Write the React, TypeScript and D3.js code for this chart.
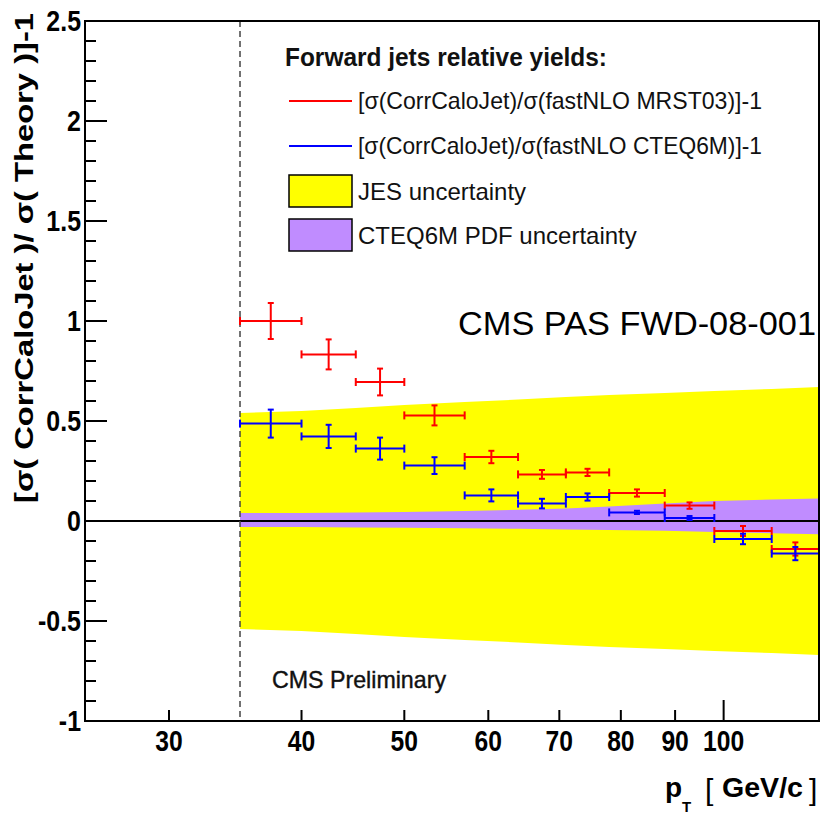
import React, { useEffect, useRef } from 'react';
import * as d3 from 'd3';

// pT bin edges [GeV/c]
const binEdges = [35, 40, 45, 50, 57, 64, 71, 78, 88, 98, 111, 123];

// [sigma(CorrCaloJet)/sigma(fastNLO MRST03)]-1
const mrstValues = [1.0, 0.833, 0.695, 0.528, 0.32, 0.233, 0.243, 0.14, 0.077, -0.05, -0.14];
const mrstErrors = [0.09, 0.075, 0.067, 0.05, 0.031, 0.022, 0.018, 0.018, 0.016, 0.025, 0.033];

// [sigma(CorrCaloJet)/sigma(fastNLO CTEQ6M)]-1
const cteqValues = [0.487, 0.423, 0.362, 0.277, 0.128, 0.087, 0.12, 0.043, 0.015, -0.09, -0.163];
const cteqErrors = [0.07, 0.058, 0.055, 0.042, 0.03, 0.024, 0.018, 0.008, 0.01, 0.026, 0.033];

// bands, one value per bin edge
const jesUp = [0.54, 0.55, 0.565, 0.58, 0.595, 0.607, 0.62, 0.63, 0.64, 0.65, 0.66, 0.67];
const jesDown = [-0.54, -0.55, -0.565, -0.58, -0.595, -0.607, -0.62, -0.63, -0.64, -0.65, -0.66, -0.67];
const pdfUp = [0.04, 0.04, 0.042, 0.045, 0.05, 0.056, 0.063, 0.072, 0.088, 0.1, 0.107, 0.112];
const pdfDown = [-0.03, -0.03, -0.032, -0.034, -0.036, -0.039, -0.042, -0.045, -0.049, -0.055, -0.061, -0.066];

const xTicks = [30, 40, 50, 60, 70, 80, 90, 100];
const yMajor = [-1, -0.5, 0, 0.5, 1, 1.5, 2, 2.5];

const legendLines = [
  { label: '[σ(CorrCaloJet)/σ(fastNLO MRST03)]-1', color: '#ff0000' },
  { label: '[σ(CorrCaloJet)/σ(fastNLO CTEQ6M)]-1', color: '#0000ff' },
];
const legendBoxes = [
  { label: 'JES uncertainty', color: '#ffff00' },
  { label: 'CTEQ6M PDF uncertainty', color: '#c08cff' },
];

const App = () => {
  const svgRef = useRef<SVGSVGElement>(null);

  useEffect(() => {
    const width = 821, height = 819;
    const left = 85, right = 819, top = 21, bottom = 721;
    const font = '"Liberation Sans", Arial, Helvetica, sans-serif';

    const svg = d3.select(svgRef.current);
    svg.selectAll('*').remove();
    svg.attr('width', width).attr('height', height);

    const x = d3.scaleLog().domain([25, 123]).range([left, right]);
    const y = d3.scaleLinear().domain([-1, 2.5]).range([bottom, top]);

    const plot = svg.append('g');

    // uncertainty bands
    const bandArea = (up: number[], down: number[]) =>
      d3.area<number>()
        .x(d => x(d))
        .y0((d, i) => y(down[i]))
        .y1((d, i) => y(up[i]))(binEdges);

    plot.append('path').attr('d', bandArea(jesUp, jesDown)).attr('fill', '#ffff00');
    plot.append('path').attr('d', bandArea(pdfUp, pdfDown)).attr('fill', '#c08cff');

    // zero line
    plot.append('line')
      .attr('x1', left).attr('x2', right)
      .attr('y1', y(0)).attr('y2', y(0))
      .attr('stroke', '#000').attr('stroke-width', 2);

    // threshold line
    plot.append('line')
      .attr('x1', x(35)).attr('x2', x(35))
      .attr('y1', top).attr('y2', bottom)
      .attr('stroke', '#444').attr('stroke-width', 1.5)
      .attr('stroke-dasharray', '6,4');

    // data points with error bars
    const drawSeries = (values: number[], errors: number[], color: string) => {
      const g = plot.append('g').attr('stroke', color).attr('stroke-width', 2).attr('fill', 'none');
      values.forEach((v, i) => {
        const x0 = x(binEdges[i]), x1 = x(binEdges[i + 1]);
        const xc = x(Math.sqrt(binEdges[i] * binEdges[i + 1]));
        const yc = y(v), ylo = y(v - errors[i]), yhi = y(v + errors[i]);
        g.append('line').attr('x1', x0).attr('x2', x1).attr('y1', yc).attr('y2', yc);
        g.append('line').attr('x1', x0).attr('x2', x0).attr('y1', yc - 4).attr('y2', yc + 4);
        g.append('line').attr('x1', x1).attr('x2', x1).attr('y1', yc - 4).attr('y2', yc + 4);
        g.append('line').attr('x1', xc).attr('x2', xc).attr('y1', ylo).attr('y2', yhi);
        g.append('line').attr('x1', xc - 3).attr('x2', xc + 3).attr('y1', ylo).attr('y2', ylo);
        g.append('line').attr('x1', xc - 3).attr('x2', xc + 3).attr('y1', yhi).attr('y2', yhi);
      });
    };
    drawSeries(mrstValues, mrstErrors, '#ff0000');
    drawSeries(cteqValues, cteqErrors, '#0000ff');

    // frame
    svg.append('rect')
      .attr('x', left).attr('y', top)
      .attr('width', right - left).attr('height', bottom - top)
      .attr('fill', 'none').attr('stroke', '#000').attr('stroke-width', 2);

    // y axis ticks
    const yMinor = d3.range(-10, 26).map(d => d / 10);
    svg.append('g').selectAll('line')
      .data(yMinor)
      .join('line')
      .attr('x1', left)
      .attr('x2', d => (Math.abs(d * 2 - Math.round(d * 2)) < 1e-6 ? left + 22 : left + 11))
      .attr('y1', d => y(d)).attr('y2', d => y(d))
      .attr('stroke', '#000').attr('stroke-width', 2);

    svg.append('g').selectAll('text')
      .data(yMajor)
      .join('text')
      .attr('transform', d => `translate(81,${y(d) + 10}) scale(0.86,1)`)
      .attr('text-anchor', 'end')
      .attr('font-family', font).attr('font-weight', 'bold').attr('font-size', 29)
      .text(d => String(d));

    // x axis ticks
    svg.append('g').selectAll('line')
      .data(xTicks)
      .join('line')
      .attr('x1', d => x(d)).attr('x2', d => x(d))
      .attr('y1', bottom).attr('y2', d => (d === 100 ? bottom - 21 : bottom - 11))
      .attr('stroke', '#000').attr('stroke-width', 2);

    svg.append('g').selectAll('text')
      .data(xTicks)
      .join('text')
      .attr('transform', d => `translate(${x(d)},751) scale(0.85,1)`)
      .attr('text-anchor', 'middle')
      .attr('font-family', font).attr('font-weight', 'bold').attr('font-size', 29)
      .text(d => String(d));

    // axis titles
    svg.append('text')
      .attr('transform', 'translate(33,258) rotate(-90)')
      .attr('text-anchor', 'middle')
      .attr('font-family', font).attr('font-weight', 'bold').attr('font-size', 25)
      .attr('textLength', 490).attr('lengthAdjust', 'spacingAndGlyphs')
      .text('[σ( CorrCaloJet )/ σ( Theory )]-1');

    const xt = svg.append('g').attr('font-family', font);
    xt.append('text').attr('x', 665).attr('y', 797)
      .attr('font-weight', 'bold').attr('font-size', 28).text('p');
    xt.append('text').attr('x', 682).attr('y', 812)
      .attr('font-weight', 'bold').attr('font-size', 15).text('T');
    xt.append('text').attr('x', 705).attr('y', 800)
      .attr('font-size', 30).attr('font-weight', 300).text('[');
    xt.append('text').attr('x', 722).attr('y', 797)
      .attr('font-weight', 'bold').attr('font-size', 28)
      .attr('textLength', 81).attr('lengthAdjust', 'spacingAndGlyphs').text('GeV/c');
    xt.append('text').attr('x', 809).attr('y', 800)
      .attr('font-size', 30).attr('font-weight', 300).text(']');

    // annotations
    svg.append('text')
      .attr('x', 458).attr('y', 335)
      .attr('font-family', font).attr('font-size', 34)
      .attr('textLength', 358).attr('lengthAdjust', 'spacingAndGlyphs')
      .text('CMS PAS FWD-08-001');

    svg.append('text')
      .attr('x', 272).attr('y', 688)
      .attr('font-family', font).attr('font-size', 24).attr('fill', '#111')
      .attr('stroke', '#111').attr('stroke-width', 0.4)
      .attr('textLength', 174).attr('lengthAdjust', 'spacingAndGlyphs')
      .text('CMS Preliminary');

    // legend
    const lg = svg.append('g').attr('font-family', font);
    lg.append('text')
      .attr('x', 285).attr('y', 66)
      .attr('font-weight', 'bold').attr('font-size', 26).attr('fill', '#111')
      .attr('textLength', 322).attr('lengthAdjust', 'spacingAndGlyphs')
      .text('Forward jets relative yields:');

    legendLines.forEach((d, i) => {
      const ly = 101 + i * 45;
      lg.append('line')
        .attr('x1', 289).attr('x2', 352).attr('y1', ly).attr('y2', ly)
        .attr('stroke', d.color).attr('stroke-width', 2);
      lg.append('text')
        .attr('x', 358).attr('y', ly + 8)
        .attr('font-size', 24).attr('fill', '#111')
        .attr('textLength', 404).attr('lengthAdjust', 'spacingAndGlyphs')
        .text(d.label);
    });

    legendBoxes.forEach((d, i) => {
      const by = 175 + i * 44;
      lg.append('rect')
        .attr('x', 289).attr('y', by).attr('width', 63).attr('height', 32)
        .attr('fill', d.color).attr('stroke', '#000').attr('stroke-width', 1.5);
      lg.append('text')
        .attr('x', 358).attr('y', by + 25)
        .attr('font-size', 24).attr('fill', '#111')
        .text(d.label);
    });
  }, []);

  return <svg ref={svgRef} style={{ position: 'absolute', left: 0, top: 0 }}></svg>;
};

export default App;
